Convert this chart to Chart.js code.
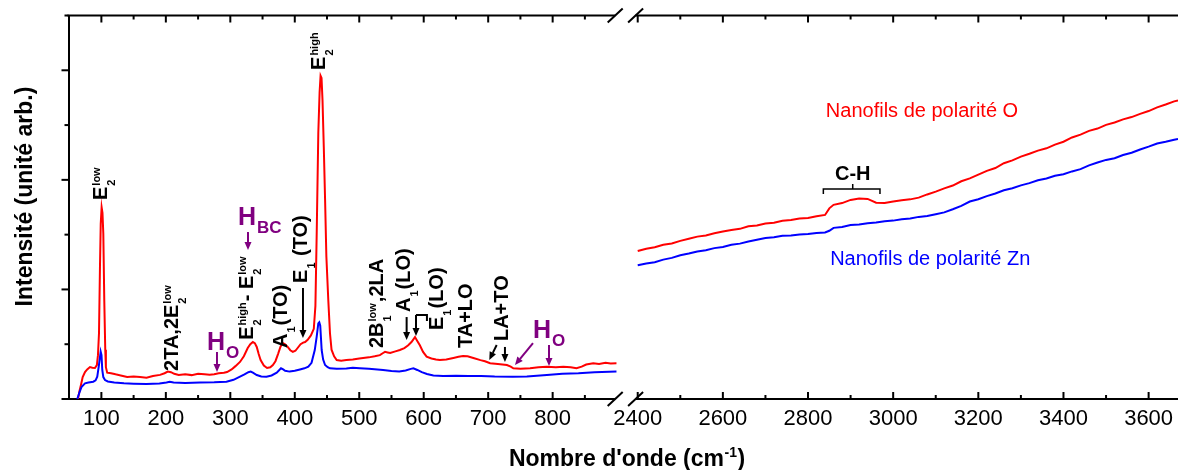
<!DOCTYPE html>
<html>
<head>
<meta charset="utf-8">
<script src="https://cdn.jsdelivr.net/npm/chart.js@4.4.0/dist/chart.umd.min.js"></script>
<style>
  html, body { margin: 0; padding: 0; background: #fff; }
</style>
</head>
<body>
<canvas id="ramanChart" width="1178" height="470"></canvas>
<script>
const FONT = "'Liberation Sans', Arial, sans-serif";

// ---- low wavenumber window (cm-1), intensity in arb. units ----
const lowWaveO = [63.7, 66, 68.4, 71, 74.6, 78, 82.3, 86, 90, 93, 94.7, 96.3, 97.8, 99, 100.4, 101.7, 103, 104.5, 106, 107,
  109, 115, 122, 130, 140, 150, 160, 170, 180, 191, 198, 203, 208, 213, 220, 230, 240, 250, 260, 268,
  275, 282, 290, 295, 302, 308, 315, 321, 327, 331, 335, 338, 341, 344, 347, 352, 357, 362, 366, 370,
  374, 378, 381.5, 385, 389, 393, 397, 401, 405, 409, 413, 416, 420, 425, 429.5, 432, 434, 436.5, 438.5, 440,
  441.5, 443, 445, 447, 449, 452, 454.6, 457, 461, 465, 472, 480, 490, 500, 506, 515, 524, 532, 537, 540,
  544, 548, 556, 563, 570, 576, 581, 586.5, 590, 594, 599, 604.5, 612, 619, 625, 635, 646, 654, 661, 668,
  677, 688, 695, 703, 715, 729, 735, 739, 750, 765, 778, 791, 805, 816.5, 828, 837, 845, 852, 863, 872,
  882, 890, 899];
const lowO = [0, 0.07, 0.13, 0.2, 0.246, 0.27, 0.292, 0.285, 0.283, 0.31, 0.4, 0.6, 1.2, 1.6, 1.75, 1.7, 1.51, 0.9, 0.45, 0.29,
  0.24, 0.235, 0.225, 0.215, 0.2, 0.205, 0.2, 0.195, 0.21, 0.22, 0.235, 0.25, 0.245, 0.23, 0.22, 0.225, 0.218, 0.23, 0.225, 0.222,
  0.225, 0.235, 0.24, 0.246, 0.27, 0.3, 0.338, 0.39, 0.465, 0.5, 0.52, 0.51, 0.475, 0.41, 0.356, 0.305, 0.283, 0.29, 0.31, 0.345,
  0.41, 0.48, 0.51, 0.5, 0.475, 0.445, 0.43, 0.44, 0.47, 0.5, 0.515, 0.52, 0.54, 0.58, 0.64, 0.85, 1.51, 2.43, 2.8, 2.95,
  2.93, 2.73, 2.3, 1.82, 1.3, 0.9, 0.6, 0.45, 0.39, 0.356, 0.35, 0.356, 0.36, 0.37, 0.374, 0.38, 0.39, 0.4, 0.42, 0.43,
  0.425, 0.42, 0.435, 0.447, 0.465, 0.49, 0.52, 0.565, 0.53, 0.49, 0.43, 0.386, 0.37, 0.36, 0.356, 0.36, 0.374, 0.385, 0.392, 0.39,
  0.374, 0.355, 0.345, 0.326, 0.32, 0.31, 0.295, 0.28, 0.275, 0.28, 0.29, 0.295, 0.29, 0.295, 0.29, 0.28, 0.295, 0.315, 0.326, 0.32,
  0.33, 0.325, 0.326];

const lowWaveZn = [62.6, 66, 69.4, 74.6, 80, 87.4, 91, 93.6, 96, 98.9, 100.2, 101.4, 103, 105.6, 110, 120, 135, 150, 170, 190,
  201, 206, 212, 230, 253, 275, 294, 305, 315, 322, 328, 331.6, 335, 341, 348, 356, 364, 372, 378.6, 382,
  385, 392, 400, 408, 415, 421, 426, 431, 434, 436.5, 438, 439.5, 441.7, 444, 447, 451, 454.6, 465, 480, 490,
  501, 515, 537, 550, 562, 572, 580, 584, 590, 597, 605, 615, 630, 650, 670, 689, 710, 738, 760, 791,
  815, 840, 865, 899];
const lowZn = [0, 0.06, 0.112, 0.143, 0.15, 0.158, 0.17, 0.204, 0.3, 0.432, 0.4, 0.265, 0.2, 0.173, 0.16, 0.15, 0.143, 0.14, 0.138, 0.142,
  0.15, 0.158, 0.15, 0.145, 0.15, 0.152, 0.158, 0.175, 0.204, 0.225, 0.245, 0.25, 0.24, 0.219, 0.205, 0.204, 0.215, 0.24, 0.28, 0.27,
  0.258, 0.25, 0.258, 0.27, 0.28, 0.295, 0.33, 0.447, 0.57, 0.69, 0.7, 0.67, 0.447, 0.36, 0.31, 0.29, 0.28, 0.275, 0.278, 0.285,
  0.28, 0.275, 0.265, 0.255, 0.25, 0.26, 0.275, 0.28, 0.265, 0.245, 0.228, 0.215, 0.21, 0.212, 0.21, 0.21, 0.205, 0.203, 0.205, 0.219,
  0.23, 0.235, 0.245, 0.25];

// ---- high wavenumber window (cm-1) ----
const highWave = [2400, 2420, 2440, 2460, 2480, 2500, 2520, 2540, 2560, 2580, 2600, 2620, 2640, 2660, 2680, 2700, 2720, 2740, 2760, 2780,
  2800, 2820, 2840, 2850, 2860, 2880, 2900, 2920, 2940, 2960, 2980, 3000, 3020, 3040, 3060, 3080, 3100, 3120, 3140, 3160,
  3180, 3200, 3220, 3240, 3260, 3280, 3300, 3320, 3340, 3360, 3380, 3400, 3420, 3440, 3460, 3480, 3500, 3520, 3540, 3560,
  3580, 3600, 3620, 3640, 3660, 3669];
const highO = [1.35, 1.372, 1.385, 1.408, 1.42, 1.443, 1.462, 1.482, 1.493, 1.512, 1.528, 1.542, 1.553, 1.577, 1.584, 1.602, 1.608, 1.627, 1.633, 1.647,
  1.652, 1.667, 1.68, 1.74, 1.772, 1.788, 1.817, 1.83, 1.826, 1.792, 1.788, 1.802, 1.813, 1.822, 1.838, 1.867, 1.893, 1.922, 1.948, 1.987,
  2.013, 2.047, 2.082, 2.108, 2.152, 2.178, 2.212, 2.238, 2.267, 2.288, 2.322, 2.348, 2.387, 2.413, 2.447, 2.468, 2.502, 2.523, 2.552, 2.573,
  2.602, 2.628, 2.662, 2.688, 2.716, 2.725];
const highZn = [1.22, 1.236, 1.248, 1.272, 1.288, 1.312, 1.328, 1.347, 1.358, 1.377, 1.388, 1.407, 1.418, 1.437, 1.453, 1.47, 1.476, 1.489, 1.493, 1.502,
  1.505, 1.515, 1.52, 1.535, 1.562, 1.57, 1.587, 1.593, 1.605, 1.61, 1.622, 1.628, 1.64, 1.647, 1.662, 1.67, 1.687, 1.703, 1.732, 1.763,
  1.802, 1.823, 1.852, 1.876, 1.905, 1.923, 1.95, 1.97, 1.997, 2.013, 2.037, 2.051, 2.077, 2.098, 2.132, 2.158, 2.182, 2.198, 2.227, 2.248,
  2.277, 2.303, 2.332, 2.348, 2.366, 2.372];

// axis ticks
const lowTicks = [100, 200, 300, 400, 500, 600, 700, 800];
const lowMinor = [150, 250, 350, 450, 550, 650, 750, 850];
const highTicks = [2400, 2600, 2800, 3000, 3200, 3400, 3600];
const highMinor = [2500, 2700, 2900, 3100, 3300, 3500];
const yMajor = [0, 1, 2, 3];
const yMinor = [0.5, 1.5, 2.5, 3.5];

// axis break: last value of the low window, first of the high window
const lowEnd = 897;
const highStart = 2395;

// peak assignments (rotated), anchored at wavenumber / intensity
const peakLabels = [
  {axis: 'xLow', x: 108.7, y: 1.816, parts: ['E', {b: '2', p: 'low'}]},
  {axis: 'xLow', x: 218.8, y: 0.256, parts: ['2TA,2E', {b: '2', p: 'low'}]},
  {axis: 'xLow', x: 335, y: 0.54, parts: ['E', {b: '2', p: 'high'}, '- E', {b: '2', p: 'low'}]},
  {axis: 'xLow', x: 388.7, y: 0.465, parts: ['A', {b: '1'}, '(TO)']},
  {axis: 'xLow', x: 418.9, y: 1.059, parts: ['E', {b: '1'}, ' (TO)']},
  {axis: 'xLow', x: 446.8, y: 3.003, parts: ['E', {b: '2', p: 'high'}]},
  {axis: 'xLow', x: 536.8, y: 0.465, parts: ['2B', {b: '1', p: 'low'}, ',2LA']},
  {axis: 'xLow', x: 578.6, y: 0.794, parts: ['A', {b: '1'}, '(LO)']},
  {axis: 'xLow', x: 629.9, y: 0.63, parts: ['E', {b: '1'}, '(LO)']},
  {axis: 'xLow', x: 674.9, y: 0.465, parts: ['TA+LO']},
  {axis: 'xLow', x: 730.8, y: 0.529, parts: ['LA+TO']}
];
const hydrogenLabels = [
  {axis: 'xLow', x: 263.8, y: 0.447, parts: ['H', {b: 'O'}]},
  {axis: 'xLow', x: 311.9, y: 1.588, parts: ['H', {b: 'BC'}]},
  {axis: 'xLow', x: 769.5, y: 0.557, parts: ['H', {b: 'O'}]}
];
const arrows = [
  {axis: 'xLow', x1: 279.3, y1: 0.429, x2: 279.3, y2: 0.246, color: '#800080'},
  {axis: 'xLow', x1: 327.4, y1: 1.524, x2: 327.4, y2: 1.36, color: '#800080'},
  {axis: 'xLow', x1: 412.7, y1: 1.013, x2: 412.7, y2: 0.557, color: '#000'},
  {axis: 'xLow', x1: 573.5, y1: 0.748, x2: 573.5, y2: 0.538, color: '#000'},
  {axis: 'xLow', x1: 588, y1: 0.767, x2: 588, y2: 0.575, color: '#000'},
  {axis: 'xLow', x1: 713.2, y1: 0.493, x2: 701.7, y2: 0.356, color: '#000'},
  {axis: 'xLow', x1: 726, y1: 0.475, x2: 726, y2: 0.338, color: '#000'},
  {axis: 'xLow', x1: 769.5, y1: 0.511, x2: 741.6, y2: 0.31, color: '#800080'},
  {axis: 'xLow', x1: 794.3, y1: 0.493, x2: 794.3, y2: 0.301, color: '#800080'}
];

function toPoints(xs, ys) {
  return xs.map((x, i) => ({x: x, y: ys[i]}));
}

function drawRich(ctx, parts, x, y, o) {
  ctx.save();
  ctx.translate(x, y);
  if (o.rot) ctx.rotate(-Math.PI / 2);
  ctx.fillStyle = o.color;
  ctx.textAlign = 'left';
  ctx.textBaseline = 'alphabetic';
  let cx = 0;
  for (const p of parts) {
    if (typeof p === 'string') {
      ctx.font = 'bold ' + o.size + 'px ' + FONT;
      ctx.fillText(p, cx, 0);
      cx += ctx.measureText(p).width;
    } else {
      ctx.font = 'bold ' + o.small + 'px ' + FONT;
      let w = 0;
      if (p.b) { ctx.fillText(p.b, cx + 1, o.down); w = Math.max(w, ctx.measureText(p.b).width); }
      if (p.p) { ctx.fillText(p.p, cx + 1, -o.up); w = Math.max(w, ctx.measureText(p.p).width); }
      cx += w + 2;
    }
  }
  ctx.restore();
}

function seg(ctx, x1, y1, x2, y2) {
  ctx.beginPath();
  ctx.moveTo(x1, y1);
  ctx.lineTo(x2, y2);
  ctx.stroke();
}

function drawArrow(ctx, x1, y1, x2, y2, color) {
  const a = Math.atan2(y2 - y1, x2 - x1);
  const L = 8, W = 3.5;
  const c = Math.cos(a), s = Math.sin(a);
  ctx.save();
  ctx.strokeStyle = color;
  ctx.fillStyle = color;
  ctx.lineWidth = 2;
  seg(ctx, x1, y1, x2 - L * c, y2 - L * s);
  ctx.beginPath();
  ctx.moveTo(x2, y2);
  ctx.lineTo(x2 - L * c - W * s, y2 - L * s + W * c);
  ctx.lineTo(x2 - L * c + W * s, y2 - L * s - W * c);
  ctx.closePath();
  ctx.fill();
  ctx.restore();
}

const decorPlugin = {
  id: 'decor',
  afterDraw(chart) {
    const {ctx, chartArea: a, scales} = chart;
    const xl = scales.xLow, xh = scales.xHigh, ys = scales.y;
    const gapL = xl.getPixelForValue(lowEnd);
    const gapR = xh.getPixelForValue(highStart);

    ctx.save();
    // open the bottom axis at the break
    ctx.fillStyle = '#fff';
    ctx.fillRect(gapL, a.bottom - 3, gapR - gapL, 6);

    ctx.strokeStyle = '#000';
    ctx.lineWidth = 2;
    // top frame
    seg(ctx, a.left - 1, a.top, gapL, a.top);
    seg(ctx, gapR, a.top, a.right, a.top);
    // break marks
    for (const cx of [gapL, gapR]) {
      for (const cy of [a.top, a.bottom]) seg(ctx, cx - 7.5, cy + 7, cx + 7.5, cy - 7);
    }
    // inward x ticks, bottom and top
    const xt = (scale, vals, len) => {
      for (const v of vals) {
        const px = scale.getPixelForValue(v);
        seg(ctx, px, a.bottom, px, a.bottom - len);
        seg(ctx, px, a.top, px, a.top + len);
      }
    };
    xt(xl, lowTicks, 7); xt(xl, lowMinor, 4);
    xt(xh, highTicks, 7); xt(xh, highMinor, 4);
    // outward y ticks
    for (const v of yMajor) { const py = ys.getPixelForValue(v); seg(ctx, a.left - 7, py, a.left, py); }
    for (const v of yMinor) { const py = ys.getPixelForValue(v); seg(ctx, a.left - 4, py, a.left, py); }

    // axis titles
    ctx.fillStyle = '#000';
    ctx.save();
    ctx.translate(31.5, 196.5);
    ctx.rotate(-Math.PI / 2);
    ctx.font = 'bold 23px ' + FONT;
    ctx.textAlign = 'center';
    ctx.fillText('Intensité (unité arb.)', 0, 0);
    ctx.restore();

    const t1 = "Nombre d'onde (cm", t2 = '-1', t3 = ')';
    ctx.font = 'bold 23px ' + FONT;
    const w1 = ctx.measureText(t1).width, w3 = ctx.measureText(t3).width;
    ctx.font = 'bold 14px ' + FONT;
    const w2 = ctx.measureText(t2).width;
    let tx = 627 - (w1 + w2 + w3 + 1) / 2;
    const ty = 466;
    ctx.textAlign = 'left';
    ctx.font = 'bold 23px ' + FONT;
    ctx.fillText(t1, tx, ty);
    ctx.font = 'bold 14px ' + FONT;
    ctx.fillText(t2, tx + w1 + 0.5, ty - 9);
    ctx.font = 'bold 23px ' + FONT;
    ctx.fillText(t3, tx + w1 + w2 + 1, ty);

    // peak assignments
    for (const l of peakLabels) {
      const sc = scales[l.axis];
      drawRich(ctx, l.parts, sc.getPixelForValue(l.x), ys.getPixelForValue(l.y),
        {rot: true, color: '#000', size: 20, small: 11, down: 8, up: 7});
    }
    for (const l of hydrogenLabels) {
      const sc = scales[l.axis];
      drawRich(ctx, l.parts, sc.getPixelForValue(l.x), ys.getPixelForValue(l.y),
        {rot: false, color: '#800080', size: 25, small: 17, down: 8, up: 0});
    }
    for (const r of arrows) {
      const sc = scales[r.axis];
      drawArrow(ctx, sc.getPixelForValue(r.x1), ys.getPixelForValue(r.y1),
        sc.getPixelForValue(r.x2), ys.getPixelForValue(r.y2), r.color);
    }
    // bent connector for E1(LO)
    ctx.strokeStyle = '#000';
    ctx.lineWidth = 2;
    ctx.beginPath();
    ctx.moveTo(xl.getPixelForValue(588), ys.getPixelForValue(0.767));
    ctx.lineTo(xl.getPixelForValue(605), ys.getPixelForValue(0.767));
    ctx.lineTo(xl.getPixelForValue(605), ys.getPixelForValue(0.712));
    ctx.stroke();

    // C-H band bracket
    const b1 = xh.getPixelForValue(2836), b2 = xh.getPixelForValue(2969), bm = xh.getPixelForValue(2905);
    const by = ys.getPixelForValue(1.917);
    ctx.lineWidth = 1.5;
    ctx.beginPath();
    ctx.moveTo(b1, by + 5); ctx.lineTo(b1, by); ctx.lineTo(b2, by); ctx.lineTo(b2, by + 5);
    ctx.moveTo(bm, by); ctx.lineTo(bm, by - 5);
    ctx.stroke();
    ctx.fillStyle = '#000';
    ctx.font = 'bold 20px ' + FONT;
    ctx.textAlign = 'center';
    ctx.fillText('C-H', bm, ys.getPixelForValue(2.003));

    // series names
    ctx.font = '20px ' + FONT;
    ctx.fillStyle = '#ff0000';
    ctx.fillText('Nanofils de polarité O', xh.getPixelForValue(3067.7), ys.getPixelForValue(2.574));
    ctx.fillStyle = '#0000ff';
    ctx.fillText('Nanofils de polarité Zn', xh.getPixelForValue(3087), ys.getPixelForValue(1.223));
    ctx.restore();
  }
};

const xTickFont = {family: FONT, size: 22};
// keep the plot running to the canvas edges: drop label overhang padding
const fitX = s => { s.height = 71; s.paddingLeft = 0; s.paddingRight = 0; };

new Chart(document.getElementById('ramanChart'), {
  type: 'line',
  data: {
    datasets: [
      {label: 'Zn low', xAxisID: 'xLow', data: toPoints(lowWaveZn, lowZn), borderColor: '#0000ff'},
      {label: 'Zn high', xAxisID: 'xHigh', data: toPoints(highWave, highZn), borderColor: '#0000ff'},
      {label: 'O low', xAxisID: 'xLow', data: toPoints(lowWaveO, lowO), borderColor: '#ff0000'},
      {label: 'O high', xAxisID: 'xHigh', data: toPoints(highWave, highO), borderColor: '#ff0000'}
    ]
  },
  options: {
    responsive: false,
    animation: false,
    devicePixelRatio: 1,
    layout: {padding: {top: 15.5, right: 0, bottom: 0, left: 0}},
    elements: {
      line: {borderWidth: 2, tension: 0, fill: false},
      point: {radius: 0}
    },
    plugins: {legend: {display: false}, tooltip: {enabled: false}},
    scales: {
      xLow: {
        type: 'linear', position: 'bottom', stack: 'wave', stackWeight: 557,
        min: 49, max: 913,
        afterBuildTicks: s => { s.ticks = lowTicks.map(v => ({value: v})); },
        afterFit: fitX,
        grid: {display: false, drawTicks: false},
        border: {display: true, width: 2, color: '#000'},
        ticks: {font: xTickFont, color: '#000', padding: 7, maxRotation: 0, autoSkip: false, callback: v => String(v)}
      },
      xHigh: {
        type: 'linear', position: 'bottom', stack: 'wave', stackWeight: 552.5,
        min: 2371.3, max: 3669,
        afterBuildTicks: s => { s.ticks = highTicks.map(v => ({value: v})); },
        afterFit: fitX,
        grid: {display: false, drawTicks: false},
        border: {display: true, width: 2, color: '#000'},
        ticks: {font: xTickFont, color: '#000', padding: 7, maxRotation: 0, autoSkip: false, callback: v => String(v)}
      },
      y: {
        type: 'linear', position: 'left', min: 0, max: 3.5,
        afterFit: s => { s.width = 68.5; s.paddingTop = 0; s.paddingBottom = 0; },
        grid: {display: false, drawTicks: false},
        border: {display: true, width: 2, color: '#000'},
        ticks: {display: false}
      }
    }
  },
  plugins: [decorPlugin]
});
</script>
</body>
</html>
